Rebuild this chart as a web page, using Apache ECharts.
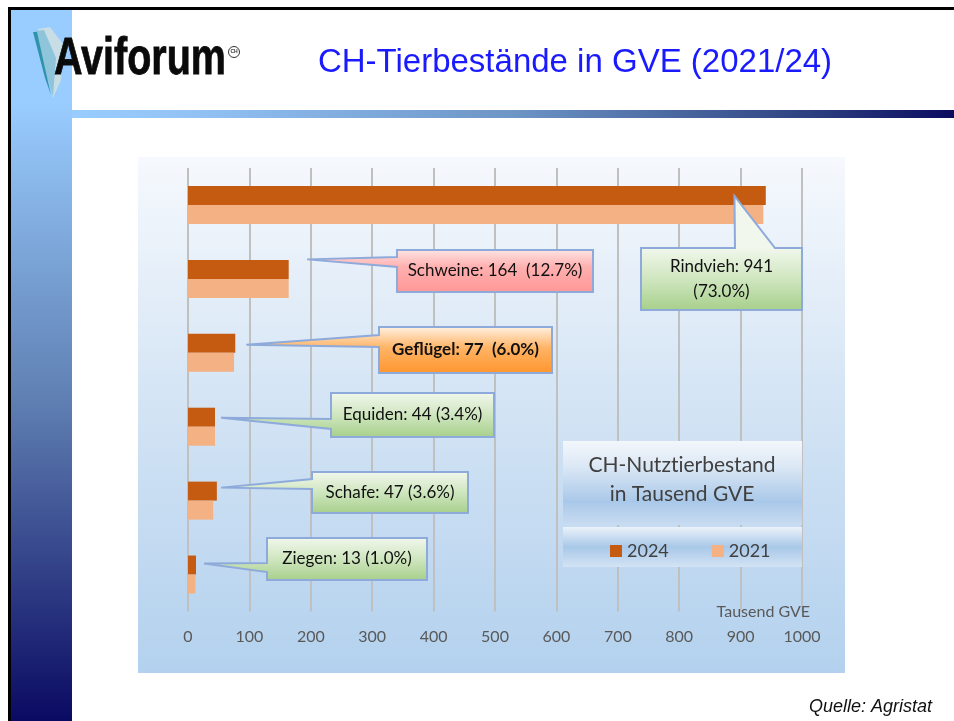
<!DOCTYPE html>
<html><head><meta charset="utf-8">
<script src="https://cdn.jsdelivr.net/npm/echarts@6/dist/echarts.min.js"></script>
<style>html,body{margin:0;padding:0;background:#fff;}#c{width:954px;height:721px;}</style>
</head><body><div id="c"></div>
<script>
// ---- data ----
const categories = ['Rindvieh', 'Schweine', 'Geflügel', 'Equiden', 'Schafe', 'Ziegen'];
const values2024 = [941, 164, 77, 44, 47, 13];
const values2021 = [937, 164, 75, 44, 41, 12];
const shares2024 = ['73.0%', '12.7%', '6.0%', '3.4%', '3.6%', '1.0%'];
const seriesNames = ['2024', '2021'];
const xTickMin = 0, xTickMax = 1000, xTickStep = 100;

// ---- callout layout (pixel boxes; pointer tip given in data units) ----
const calloutLayout = [
  { box: [641, 248, 161, 62], side: 'top', base: [735, 775], tipValue: 890, tipDy: -9, sep: '\n', fill: 'green' },
  { box: [397, 250, 196, 42], side: 'left', base: [257, 267], tipValue: 194, tipDy: -19.5, sep: '  ', fill: 'pink' },
  { box: [379, 327, 173, 46], side: 'left', base: [335, 347], tipValue: 95, tipDy: -8, sep: '  ', fill: 'orange', bold: true },
  { box: [331, 393, 163, 44], side: 'left', base: [419, 429], tipValue: 54, tipDy: -9, sep: ' ', fill: 'green' },
  { box: [312, 472, 156, 41], side: 'left', base: [479, 489], tipValue: 54, tipDy: -13, sep: ' ', fill: 'green' },
  { box: [267, 538, 160, 42], side: 'left', base: [563, 572], tipValue: 26, tipDy: -11, sep: ' ', fill: 'green' }
];
const fills = {
  green: [[0, '#f1f7ec'], [0.5, '#cfe6bf'], [1, '#a8d08c']],
  pink: [[0, '#ffe2e2'], [0.4, '#ffb0b0'], [1, '#ff9797']],
  orange: [[0, '#fff0e0'], [0.45, '#ffb466'], [1, '#ff962e']]
};

const FONT = 'Lato';
const chart = echarts.init(document.getElementById('c'), null, { renderer: 'canvas' });

function lg(x1, y1, x2, y2, stops) {
  return new echarts.graphic.LinearGradient(x1, y1, x2, y2,
    stops.map(s => ({ offset: s[0], color: s[1] })), true);
}

const decorations = [
  // left vertical gradient bar
  { id: 'leftbar', type: 'rect', z: -20, shape: { x: 11, y: 10, width: 61, height: 711 },
    style: { fill: lg(0, 10, 0, 721, [[0, '#99ccff'], [0.13, '#99ccff'], [0.55, '#5f7fb2'], [1, '#0a0a62']]) } },
  // horizontal gradient bar
  { id: 'hbar', type: 'rect', z: -20, shape: { x: 72, y: 110, width: 882, height: 8 },
    style: { fill: lg(72, 0, 954, 0, [[0, '#99ccff'], [0.12, '#94c4f6'], [0.5, '#6d95c6'], [0.8, '#344b88'], [1, '#0b0b60']]) } },
  // black frame
  { id: 'ftop', type: 'rect', z: -19, shape: { x: 8, y: 7, width: 946, height: 3 }, style: { fill: '#000' } },
  { id: 'fleft', type: 'rect', z: -19, shape: { x: 8, y: 7, width: 3, height: 714 }, style: { fill: '#000' } },
  // logo feather
  { id: 'fe1', type: 'polygon', z: -18, shape: { points: [[38, 29], [50, 27], [63, 44], [61, 80], [53, 98], [48, 70]] }, style: { fill: '#c9dde6' } },
  { id: 'fe2', type: 'polygon', z: -18, shape: { points: [[35, 31], [44, 30], [56, 58], [53, 96], [45, 70]] }, style: { fill: '#8ec5db' } },
  { id: 'fe3', type: 'polygon', z: -18, shape: { points: [[33, 32], [37, 32], [51, 95], [45, 78]] }, style: { fill: '#2f93ac' } },
  // logo text
  { id: 'logo', type: 'text', z: -17, x: 54, y: 60, scaleX: 0.76,
    style: { text: 'Aviforum', fill: '#0a0a0a', font: 'bold 52px "Liberation Sans"', align: 'left', verticalAlign: 'middle', stroke: '#0a0a0a', lineWidth: 0.8 } },
  { id: 'logoR', type: 'circle', z: -17, shape: { cx: 234, cy: 52, r: 5.5 }, style: { fill: '#fff', stroke: '#333', lineWidth: 1 } },
  { id: 'logoRt', type: 'text', z: -17, x: 234, y: 52,
    style: { text: 'CH', fill: '#333', font: 'bold 5px "Liberation Sans"', align: 'center', verticalAlign: 'middle' } },
  // title
  { id: 'title', type: 'text', z: -17, x: 575, y: 63,
    style: { text: 'CH-Tierbestände in GVE (2021/24)', fill: '#1a1aff', font: '33px "Liberation Sans"', align: 'center', verticalAlign: 'middle' } },
  // source
  { id: 'src', type: 'text', z: -17, x: 932, y: 707,
    style: { text: 'Quelle: Agristat', fill: '#111', font: 'italic 18px "Liberation Sans"', align: 'right', verticalAlign: 'middle' } },
  // chart panel background
  { id: 'panel', type: 'rect', z: -15, shape: { x: 138, y: 157, width: 707, height: 516 },
    style: { fill: lg(0, 157, 0, 673, [[0, '#f6f9fd'], [0.5, '#d2e3f4'], [1, '#b3d1ee']]) } },
  // legend box
  { id: 'lgTop', type: 'rect', z: 50, shape: { x: 563, y: 441, width: 239, height: 84 },
    style: { fill: lg(0, 441, 0, 525, [[0, '#f3f7fc'], [0.3, '#dce8f5'], [0.72, '#a9c8e9'], [1, '#c9dcf1']]) } },
  { id: 'lgBot', type: 'rect', z: 50, shape: { x: 563, y: 527, width: 239, height: 40 },
    style: { fill: lg(0, 527, 0, 567, [[0, '#ebf2fa'], [0.5, '#a9c8e9'], [1, '#d3e3f4']]) } },
  { id: 'lgTitle', type: 'text', z: 51, x: 682, y: 480,
    style: { text: 'CH-Nutzt\u200Cierbestand\nin Tausend GVE', fill: '#404040', font: '21px Lato', lineHeight: 29, align: 'center', verticalAlign: 'middle' } }
];

const option = {
  animation: false,
  backgroundColor: '#fff',
  graphic: { elements: decorations },
  grid: { left: 188, right: 152, top: 168, height: 443.5, containLabel: false },
  legend: {
    data: seriesNames, left: 605, top: 537, itemWidth: 12, itemHeight: 12, itemGap: 43, icon: 'rect',
    z: 60, textStyle: { fontFamily: FONT, fontSize: 18, color: '#404040' }
  },
  xAxis: {
    type: 'value', min: xTickMin, max: xTickMax, interval: xTickStep,
    name: 'Tausend GVE', nameLocation: 'end', nameGap: 8,
    nameTextStyle: { fontFamily: FONT, fontSize: 16, color: '#595959', align: 'right', verticalAlign: 'middle' },
    axisLine: { show: false }, axisTick: { show: false },
    axisLabel: { fontFamily: FONT, fontSize: 16, color: '#595959', margin: 17, formatter: v => String(v) },
    splitLine: { show: true, lineStyle: { color: '#c0c0c0', width: 2 } }
  },
  yAxis: {
    type: 'category', data: categories, inverse: true,
    axisLine: { show: false }, axisTick: { show: false }, axisLabel: { show: false }, splitLine: { show: false }
  },
  series: [
    { name: seriesNames[0], type: 'bar', data: values2024, barWidth: 19, barGap: '0%', itemStyle: { color: '#c55a11' } },
    { name: seriesNames[1], type: 'bar', data: values2021, barWidth: 19, barGap: '0%', itemStyle: { color: '#f4b183' } }
  ]
};
chart.setOption(option);

// ---- callouts: pointer tips located through the chart's own scales ----
const callouts = [];
calloutLayout.forEach((c, i) => {
  const p = chart.convertToPixel({ gridIndex: 0 }, [c.tipValue, i]);
  const tx = p[0], ty = p[1] + c.tipDy;
  const [x, y, w, h] = c.box;
  let pts;
  if (c.side === 'top') {
    pts = [[x, y], [c.base[0], y], [tx, ty], [c.base[1], y], [x + w, y], [x + w, y + h], [x, y + h]];
  } else {
    pts = [[x, y], [x + w, y], [x + w, y + h], [x, y + h], [x, c.base[1]], [tx, ty], [x, c.base[0]]];
  }
  callouts.push({
    id: 'co' + i, type: 'polygon', z: 40, shape: { points: pts },
    style: { fill: lg(0, y, 0, y + h, fills[c.fill]), stroke: '#8eaadb', lineWidth: 2, lineJoin: 'miter' }
  });
  const text = categories[i] + ': ' + values2024[i] + c.sep + '(' + shares2024[i] + ')';
  callouts.push({
    id: 'ct' + i, type: 'text', z: 41, x: x + w / 2, y: y + h / 2,
    style: { text: text, fill: '#111', font: (c.bold ? 'bold ' : '') + '17px Lato', lineHeight: 25, align: 'center', verticalAlign: 'middle' }
  });
});
chart.setOption({ graphic: { elements: decorations.concat(callouts) } });
</script>
</body></html>
